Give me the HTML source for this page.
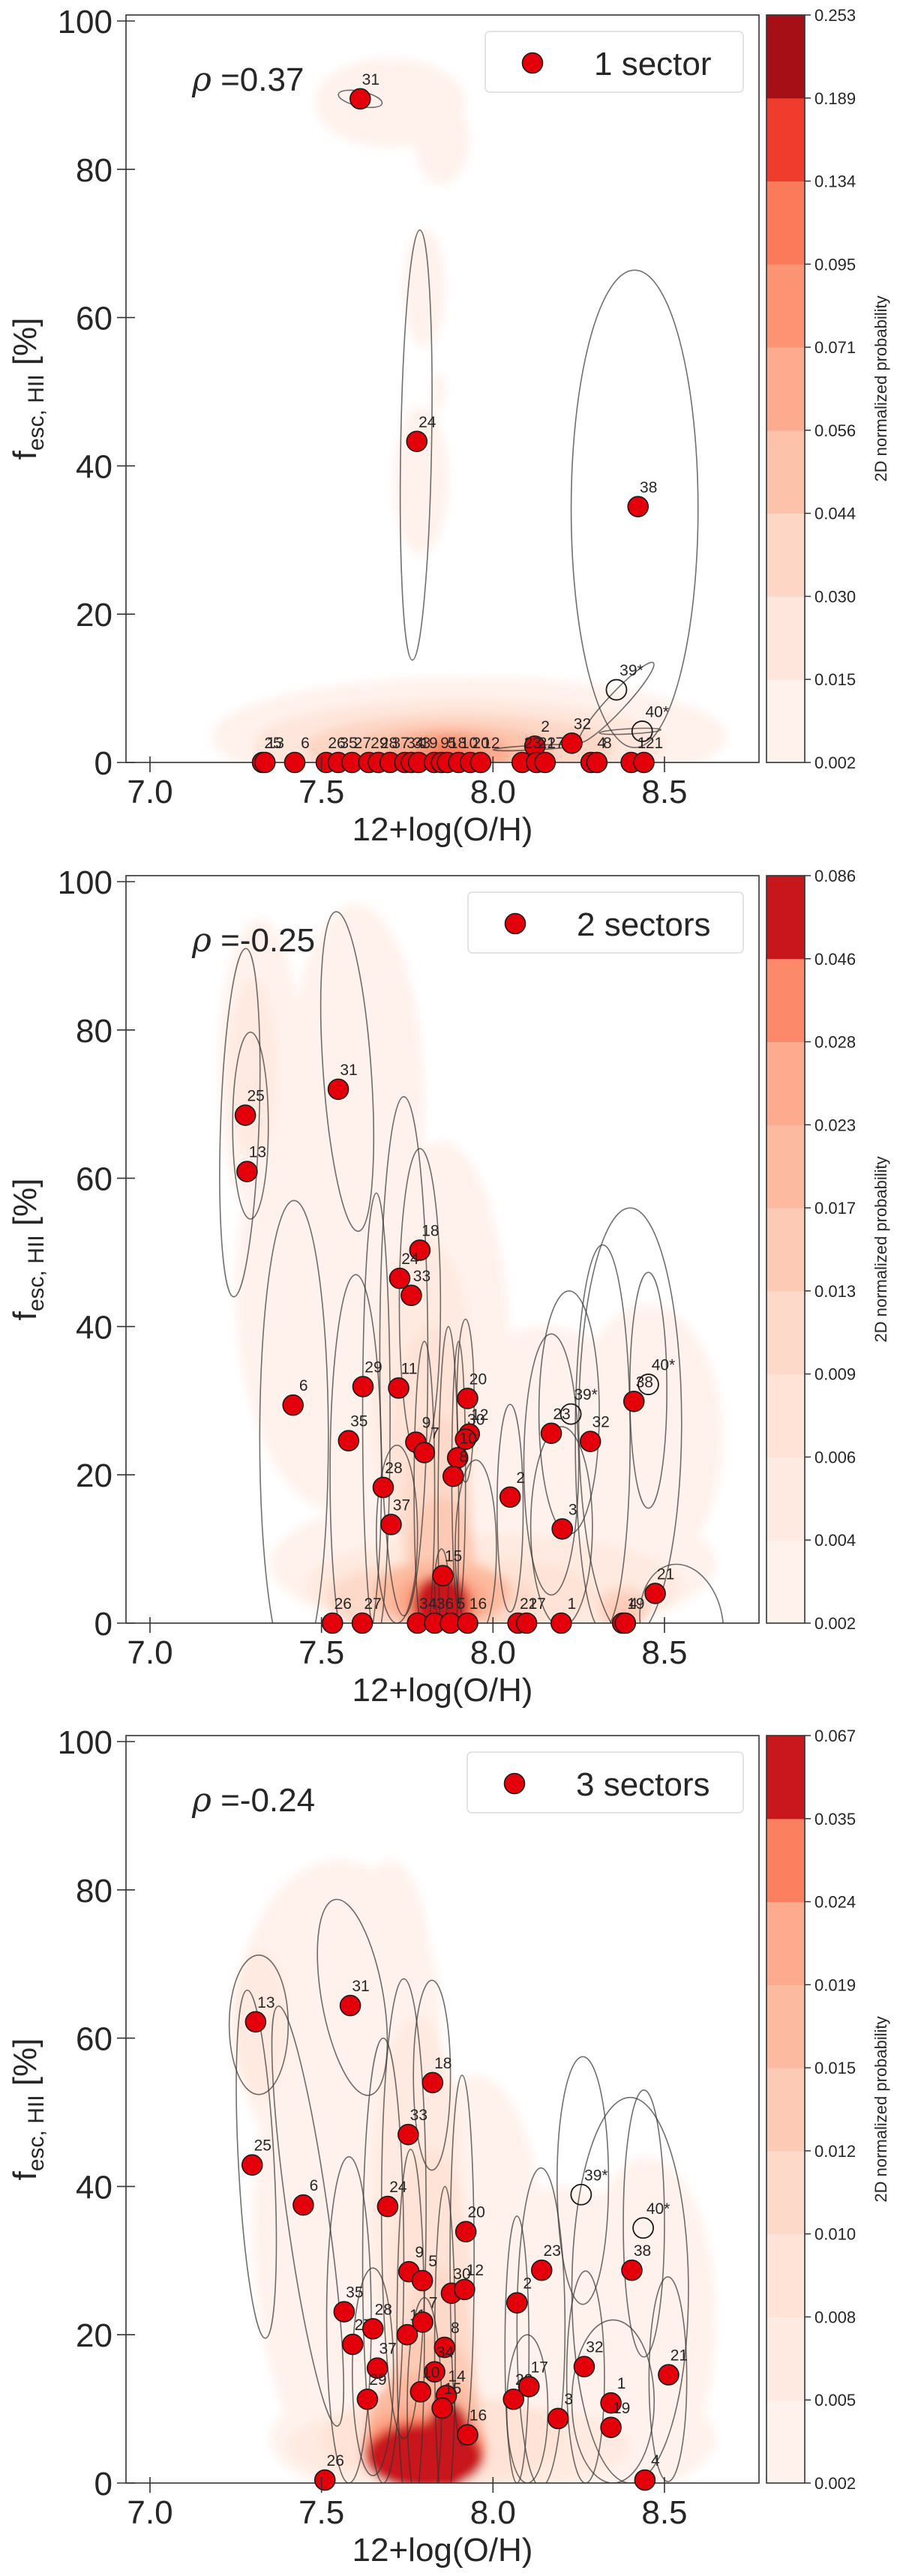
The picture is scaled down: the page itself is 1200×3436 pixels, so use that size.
<!DOCTYPE html>
<html><head><meta charset="utf-8"><style>
html,body{margin:0;padding:0;background:#fff}
svg{display:block;font-family:"Liberation Sans","DejaVu Sans",sans-serif}
</style></head><body>
<svg id="fig" width="1200" height="3436" viewBox="0 0 1200 3436" xmlns="http://www.w3.org/2000/svg">
<defs>
<filter id="blur" x="-50%" y="-50%" width="200%" height="200%"><feGaussianBlur stdDeviation="6"/></filter>
</defs>
</svg>
<script>
// ---- Panel 1 (1 sector) ----
const p1PtX=[7.613,7.778,8.423,8.23,8.122,7.328,7.335,7.422,7.514,7.549,7.589,7.638,7.666,7.70,7.743,7.762,7.783,7.829,7.85,7.867,7.90,7.934,7.964,8.085,8.127,8.152,8.286,8.303,8.403,8.44];
const p1PtY=[89.5,43.3,34.5,2.6,2.2,0,0,0,0,0,0,0,0,0,0,0,0,0,0,0,0,0,0,0,0,0,0,0,0,0];
const p1PtLab=['31','24','38','32','2','25','13','6','26','35','27','29','28','37','34','33','19','9','5','18','10','20','12','23','22','17','4','8','1','21'];
const p1OpenX=[8.36,8.435];
const p1OpenY=[9.8,4.2];
const p1OpenLab=['39*','40*'];
const p1ElX=[7.613,7.776,8.413,8.36,8.40,8.12];
const p1ElY=[89.5,42.8,34.2,8.1,4.2,2.0];
const p1ElA=[0.065,0.045,0.185,0.158,0.09,0.12];
const p1ElB=[1.0,29,32.2,1.2,0.35,0.3];
const p1ElAng=[12,1,0,-47,-3,-3];
const p1KdeX=[7.70,7.85,7.80,7.79,7.84,7.93,7.90,7.90,7.88,7.87,7.87,7.87];
const p1KdeY=[89,84,64,38,50,3.5,2.5,2,1.5,1.2,1,0.8];
const p1KdeRx=[0.22,0.08,0.06,0.08,0.02,0.75,0.6,0.45,0.3,0.18,0.1,0.05];
const p1KdeRy=[6,6,8,10,2.5,8,6,4.5,3.5,3,2.5,2];
const p1KdeLvl=[0,0,0,0,0,0,1,2,3,4,5,6];
const p1Ticks=['0.002','0.015','0.030','0.044','0.056','0.071','0.095','0.134','0.189','0.253'];
const p1Colors=['#fff2ec','#fee6dc','#fdd6c5','#fcc2aa','#fcab8f','#fc9474','#fb7a5a','#ef3c2c','#a50f15'];

// ---- Panel 2 (2 sectors) ----
const p2PtX=[7.278,7.283,7.549,7.417,7.787,7.728,7.762,7.621,7.725,7.926,7.579,7.775,7.80,7.931,7.92,7.897,7.884,7.68,7.703,8.05,8.17,8.284,8.411,8.202,8.473,7.854,7.532,7.619,7.78,7.83,7.876,7.926,8.073,8.098,8.199,8.378,8.386];
const p2PtY=[68.5,60.9,72.0,29.4,50.3,46.5,44.2,31.9,31.7,30.3,24.6,24.4,23.0,25.5,24.8,22.3,19.8,18.3,13.3,17.0,25.6,24.5,29.9,12.7,4.0,6.4,0,0,0,0,0,0,0,0,0,0,0];
const p2PtLab=['25','13','31','6','18','24','33','29','11','20','35','9','7','12','30','10','8','28','37','2','23','32','38','3','21','15','26','27','34','36','5','16','22','17','1','4','19'];
const p2OpenX=[8.227,8.453];
const p2OpenY=[28.2,32.2];
const p2OpenLab=['39*','40*'];
const p2ElX=[7.262,7.293,7.575,7.42,7.60,7.74,7.787,7.92,8.05,8.17,8.222,8.20,8.32,8.40,8.453,8.55,7.66,7.72,7.80,7.87,7.90,7.85,7.95];
const p2ElY=[67.5,67.1,74.4,25,20,36,43,30,15.5,21.4,28.4,13,25,27,31.4,0,28,12,18,15,20,5,10];
const p2ElA=[0.056,0.052,0.07,0.1,0.075,0.07,0.06,0.025,0.038,0.08,0.088,0.09,0.08,0.15,0.054,0.12,0.04,0.06,0.03,0.03,0.02,0.02,0.06];
const p2ElB=[23.5,12.6,21.6,32,27,35,21,11,14,17.6,16.4,13.5,26,29,15.9,8,30,12,20,25,18,5,12];
const p2ElAng=[2,0,-4,0,0,0,0,0,0,0,0,0,0,0,0,-10,0,0,0,0,0,0,0];
const p2KdeX=[7.32,7.60,7.55,7.85,8.15,8.45,8.00,7.30,7.80,8.00,7.82,7.90,7.84,8.38,7.82,7.85,8.38,7.85,7.85,7.85,7.85];
const p2KdeY=[75,70,45,35,25,25,8,75,30,5,22,4,14,2,3,8,1.5,4,3,2.5,2.5];
const p2KdeRx=[0.12,0.2,0.3,0.2,0.3,0.22,0.65,0.07,0.15,0.55,0.12,0.4,0.1,0.08,0.3,0.1,0.05,0.2,0.14,0.1,0.08];
const p2KdeRy=[20,27,30,30,15,18,10,12,22,7,18,5,14,3,5,9,2,4.5,4,4,4];
const p2KdeLvl=[0,0,0,0,0,0,0,1,1,1,2,2,3,3,3,4,4,5,6,7,8];
const p2Ticks=['0.002','0.004','0.006','0.009','0.013','0.017','0.023','0.028','0.046','0.086'];
const p2Colors=['#fff2ec','#feeae0','#fee3d6','#fdd9c9','#fdcab5','#fcbba0','#fcab8f','#fc8a6a','#c8171c'];

// ---- Panel 3 (3 sectors) ----
const p3PtX=[7.308,7.584,7.298,7.447,7.824,7.753,7.693,7.921,7.755,7.794,7.879,7.917,8.07,8.142,8.405,7.566,7.591,7.65,7.75,7.795,7.859,7.663,7.83,7.634,7.864,7.789,7.852,7.926,8.06,8.105,8.19,8.266,8.344,8.344,8.512,7.51,8.443];
const p3PtY=[62.2,64.4,42.9,37.5,54.0,47.0,37.3,33.9,28.5,27.3,25.6,26.1,24.3,28.7,28.7,23.1,18.7,20.8,20.0,21.7,18.3,15.5,15.0,11.3,11.8,12.3,10.1,6.5,11.3,13.0,8.7,15.7,10.8,7.5,14.6,0.4,0.4];
const p3PtLab=['13','31','25','6','18','33','24','20','9','5','30','12','2','23','38','35','27','28','11','7','8','37','34','29','14','10','15','16','22','17','3','32','1','19','21','26','4'];
const p3OpenX=[8.257,8.438];
const p3OpenY=[38.9,34.4];
const p3OpenLab=['39*','40*'];
const p3ElX=[7.317,7.31,7.46,7.59,7.74,7.822,7.68,7.58,8.262,8.44,8.40,8.14,8.07,8.51,8.27,8.35,7.91,7.65,7.76,7.86,7.80,8.10];
const p3ElY=[61.8,43,36,65.5,37,55,30,22,40.8,35,26,21,18,14,14.3,11,30,15,20,18,10,10];
const p3ElA=[0.086,0.052,0.06,0.09,0.065,0.054,0.06,0.065,0.075,0.06,0.17,0.07,0.035,0.055,0.055,0.12,0.035,0.06,0.04,0.03,0.05,0.06];
const p3ElB=[9.4,23.5,28.6,13.4,31,12.8,30,22,16.7,18,26,21.5,18,13.8,14.3,11,25,14,25,22,15,10];
const p3ElAng=[0,-3,-8,-10,0,0,0,0,0,0,0,0,0,0,0,0,0,0,0,0,0,0];
const p3KdeX=[7.55,7.70,7.60,7.95,8.20,8.45,8.00,7.32,7.78,7.90,7.82,7.85,7.84,7.82,7.80,7.80,7.80,7.80,7.87];
const p3KdeY=[62,68,35,30,22,22,6,62,38,5,25,6,15,10,7,5,4,3.5,5];
const p3KdeRx=[0.3,0.12,0.3,0.2,0.35,0.2,0.65,0.08,0.13,0.5,0.12,0.35,0.11,0.14,0.17,0.18,0.18,0.17,0.07];
const p3KdeRy=[22,16,35,25,18,22,10,10,25,6,20,6,14,10,8,6,5,4.5,6];
const p3KdeLvl=[0,0,0,0,0,0,0,1,1,1,2,2,3,4,5,6,7,8,8];
const p3Ticks=['0.002','0.005','0.008','0.010','0.012','0.015','0.019','0.024','0.035','0.067'];
const p3Colors=['#fff2ec','#feeae0','#fee3d6','#fdd9c9','#fdcab5','#fcbba0','#fcab8f','#fb8060','#c9181d'];

const xTicks=[7.0,7.5,8.0,8.5];
const yTicks=[0,20,40,60,80,100];

const NS='http://www.w3.org/2000/svg';
const svg=document.getElementById('fig');
function mk(tag,attrs,parent){const e=document.createElementNS(NS,tag);for(const k in attrs)e.setAttribute(k,attrs[k]);(parent||svg).appendChild(e);return e;}
const X=v=>200+(v-7)*457.3;
const YU=9.89;

function panel(y0,idx,legendTxt,rhoTxt,legX,P){
  const Y=v=>y0-v*YU;
  const top=y0-997;
  const g=mk('g',{});
  
  
  const cp=mk('clipPath',{id:'clip'+idx},g);
  mk('rect',{x:168,y:top,width:844,height:y0-top},cp);
  // KDE
  const kc=mk('g',{'clip-path':'url(#clip'+idx+')'},g);
  const kg=mk('g',{filter:'url(#blur)'},kc);
  
  
  for(let i=0;i<P.kx.length;i++){
    const e=mk('ellipse',{cx:X(P.kx[i]),cy:Y(P.ky[i]),rx:P.krx[i]*457.3,ry:P.kry[i]*YU,fill:P.col[P.kl[i]]},kg);
    
    
  }
  // ellipses
  const eg=mk('g',{'clip-path':'url(#clip'+idx+')'},g);
  for(let i=0;i<P.ex.length;i++){
    const cx=X(P.ex[i]),cy=Y(P.ey[i]);
    const e=mk('ellipse',{cx:cx,cy:cy,rx:P.ea[i]*457.3,ry:P.eb[i]*YU,fill:'none',stroke:'#333','stroke-opacity':0.7,'stroke-width':1.6,transform:'rotate('+P.eang[i]+' '+cx+' '+cy+')'},eg);
    
    
  }
  // frame
  const fr=mk('rect',{x:168,y:top,width:844,height:y0-top,fill:'none',stroke:'#333','stroke-width':1.6},g);
  
  
  // points
  const pg=mk('g',{},g);
  for(let i=0;i<P.px.length;i++){
    const cx=X(P.px[i]),cy=Y(P.py[i]);
    const c=mk('circle',{cx:cx,cy:cy,r:13.5,fill:'#e3000b',stroke:'#1a1a1a','stroke-width':1.6},pg);
    
    
    const t=mk('text',{x:cx+14,y:cy-19,'font-size':21,fill:'#262626','text-anchor':'middle'},pg);
    t.textContent=P.pl[i];
    
    
  }
  for(let i=0;i<P.ox.length;i++){
    const cx=X(P.ox[i]),cy=Y(P.oy[i]);
    const c=mk('circle',{cx:cx,cy:cy,r:13.5,fill:'none',stroke:'#1a1a1a','stroke-width':1.8},pg);
    
    
    const t=mk('text',{x:cx+20,y:cy-19,'font-size':21,fill:'#262626','text-anchor':'middle'},pg);
    t.textContent=P.ol[i];
    
    
  }
  // axes ticks
  for(const v of yTicks){
    const l=mk('line',{x1:156,x2:180,y1:Y(v),y2:Y(v),stroke:'#333','stroke-width':1.6},g);
    
    
    const t=mk('text',{x:150,y:Y(v)+16,'font-size':44,fill:'#262626','text-anchor':'end'},g);
    t.textContent=v;
    
    
  }
  for(const v of xTicks){
    const l=mk('line',{x1:X(v),x2:X(v),y1:y0-8,y2:y0+13,stroke:'#333','stroke-width':1.6},g);
    
    
    const t=mk('text',{x:X(v),y:y0+54,'font-size':44,fill:'#262626','text-anchor':'middle'},g);
    t.textContent=v.toFixed(1);
    
    
  }
  const xl=mk('text',{x:590,y:y0+104,'font-size':44,fill:'#262626','text-anchor':'middle'},g);
  xl.textContent='12+log(O/H)';
  
  
  const my=(top+y0)/2;
  const yl=mk('text',{x:0,y:0,'font-size':44,fill:'#262626','text-anchor':'middle',transform:'translate(48 '+my+') rotate(-90)'},g);
  
  
  yl.innerHTML='f<tspan font-size="30" dy="10">esc, HII</tspan><tspan dy="-10"> [%]</tspan>';
  // rho
  const rt=mk('text',{x:256,y:top+101,'font-size':44,fill:'#262626'},g);
  rt.innerHTML='<tspan font-style="italic" font-family="DejaVu Serif, serif">ρ</tspan> ='+rhoTxt;
  
  
  // legend
  const lg=mk('g',{},g);
  
  
  mk('rect',{x:legX,y:top+22,width:991-legX,height:81,rx:6,fill:'#fff','fill-opacity':0.85,stroke:'#dcdcdc','stroke-width':1.5},lg);
  const lm=mk('circle',{cx:legX+63,cy:top+64,r:13.5,fill:'#e3000b',stroke:'#1a1a1a','stroke-width':1.6},lg);
  
  
  const lt=mk('text',{x:legX+145,y:top+80,'font-size':44,fill:'#262626'},lg);
  lt.textContent=legendTxt;
  
  
  // colorbar
  const cb=mk('g',{},g);
  
  
  const n=P.col.length, bh=(y0-top)/n;
  for(let i=0;i<n;i++){
    const r=mk('rect',{x:1022,y:y0-(i+1)*bh,width:51,height:bh+0.5,fill:P.col[i]},cb);
    
    
  }
  mk('rect',{x:1022,y:top,width:51,height:y0-top,fill:'none',stroke:'#333','stroke-width':1.6},cb);
  for(let i=0;i<P.ticks.length;i++){
    const ty=y0-i*bh;
    mk('line',{x1:1073,x2:1081,y1:ty,y2:ty,stroke:'#333','stroke-width':1.5},cb);
    const t=mk('text',{x:1086,y:ty+8,'font-size':22,fill:'#262626'},cb);
    t.textContent=P.ticks[i];
    
    
  }
  const ct=mk('text',{x:0,y:0,'font-size':22,fill:'#262626','text-anchor':'middle',transform:'translate(1182 '+my+') rotate(-90)'},cb);
  ct.textContent='2D normalized probability';
  
  
}

panel(1017,1,'1 sector','0.37',647,{px:p1PtX,py:p1PtY,pl:p1PtLab,ox:p1OpenX,oy:p1OpenY,ol:p1OpenLab,ex:p1ElX,ey:p1ElY,ea:p1ElA,eb:p1ElB,eang:p1ElAng,kx:p1KdeX,ky:p1KdeY,krx:p1KdeRx,kry:p1KdeRy,kl:p1KdeLvl,ticks:p1Ticks,col:p1Colors});
panel(2165,2,'2 sectors','-0.25',624,{px:p2PtX,py:p2PtY,pl:p2PtLab,ox:p2OpenX,oy:p2OpenY,ol:p2OpenLab,ex:p2ElX,ey:p2ElY,ea:p2ElA,eb:p2ElB,eang:p2ElAng,kx:p2KdeX,ky:p2KdeY,krx:p2KdeRx,kry:p2KdeRy,kl:p2KdeLvl,ticks:p2Ticks,col:p2Colors});
panel(3312,3,'3 sectors','-0.24',623,{px:p3PtX,py:p3PtY,pl:p3PtLab,ox:p3OpenX,oy:p3OpenY,ol:p3OpenLab,ex:p3ElX,ey:p3ElY,ea:p3ElA,eb:p3ElB,eang:p3ElAng,kx:p3KdeX,ky:p3KdeY,krx:p3KdeRx,kry:p3KdeRy,kl:p3KdeLvl,ticks:p3Ticks,col:p3Colors});
</script>
</body></html>
